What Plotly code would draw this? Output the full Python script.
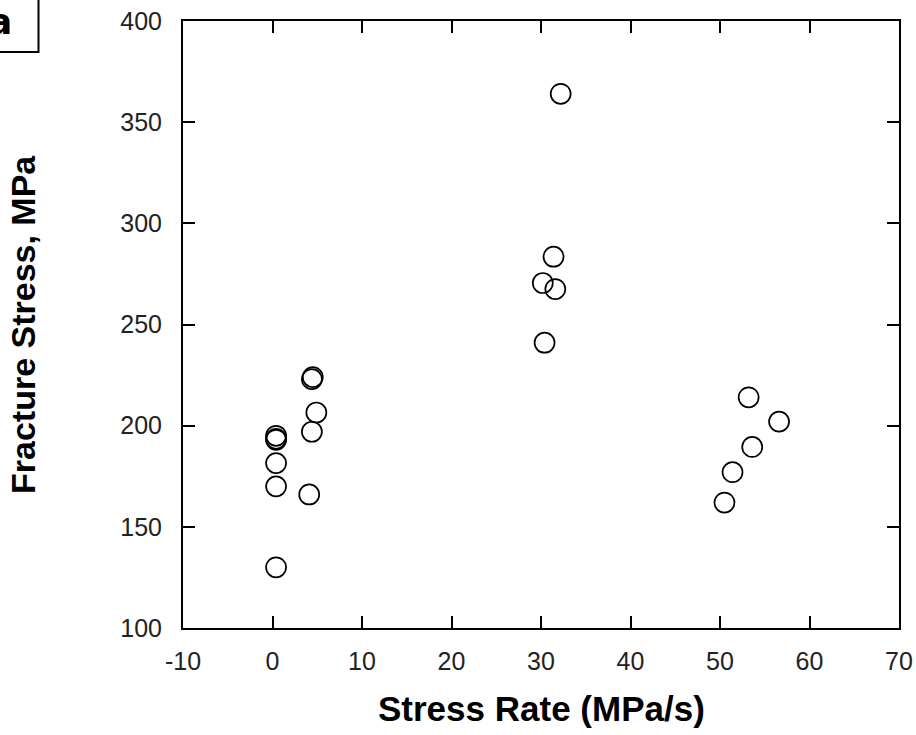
import plotly.graph_objects as go

# Data
stress_rate = [0.4, 0.4, 0.4, 0.4, 0.4, 0.4, 4.1, 4.4, 4.4, 4.5, 4.9,
               30.2, 30.4, 31.4, 31.6, 32.2,
               50.5, 51.4, 53.2, 53.6, 56.6]
fracture_stress = [195, 193, 181.5, 170, 130, 193.5, 166, 197, 223, 224, 206.5,
                   270.5, 241, 283.5, 267.5, 364,
                   162, 177, 214, 189.5, 202]

x_ticks = [-10, 0, 10, 20, 30, 40, 50, 60, 70]
y_ticks = [100, 150, 200, 250, 300, 350, 400]

W, H = 916, 735
L, R, T, B = 183, 17, 21, 107
pw, ph = W - L - R, H - T - B

def px2x(px):
    return (px - L) / pw

def py2y(py):
    return (H - B - py) / ph

fig = go.Figure()
fig.add_trace(go.Scatter(
    x=stress_rate, y=fracture_stress, mode="markers",
    marker=dict(symbol="circle-open", size=20, color="black",
                line=dict(width=1.7, color="black")),
    showlegend=False, cliponaxis=False, hoverinfo="skip",
))

tick_font = dict(family="Liberation Sans", size=25, color="#222")
axis_common = dict(
    showline=True, linecolor="black", linewidth=2, mirror="allticks",
    ticks="inside", ticklen=12, tickwidth=1.5, tickcolor="black",
    showgrid=False, zeroline=False, tickfont=tick_font, automargin=False,
)
fig.update_xaxes(range=[-10, 70], tickvals=x_ticks,
                 ticktext=[str(v) for v in x_ticks],
                 ticklabelstandoff=10, **axis_common)
fig.update_yaxes(range=[100, 400], tickvals=y_ticks,
                 ticktext=[str(v) for v in y_ticks],
                 ticklabelstandoff=14, **axis_common)

fig.add_annotation(text="<b>Stress Rate (MPa/s)</b>", xref="paper", yref="paper",
                   x=px2x(541), y=py2y(708), showarrow=False,
                   font=dict(family="Liberation Sans", size=35, color="black"),
                   xanchor="center", yanchor="middle")
fig.add_annotation(text="<b>Fracture Stress, MPa</b>", xref="paper", yref="paper",
                   x=px2x(23), y=py2y(325), showarrow=False,
                   font=dict(family="Liberation Sans", size=34, color="black"),
                   textangle=-90, xanchor="center", yanchor="middle")

# panel label box
fig.add_shape(type="rect", xref="paper", yref="paper",
              x0=px2x(-5), x1=px2x(38.5), y0=py2y(52), y1=py2y(-5),
              line=dict(color="black", width=2), fillcolor="white")
fig.add_annotation(text="<b>a</b>", xref="paper", yref="paper",
                   x=px2x(14), y=py2y(21), showarrow=False,
                   font=dict(family="DejaVu Sans", size=36, color="black"),
                   xanchor="right", yanchor="middle")

fig.update_layout(
    width=W, height=H,
    margin=dict(l=L, r=R, t=T, b=B),
    paper_bgcolor="white", plot_bgcolor="white",
)

fig.write_html("out.html", config={"displayModeBar": False},
               post_script="document.body.style.margin='0';document.body.style.overflow='hidden';")
